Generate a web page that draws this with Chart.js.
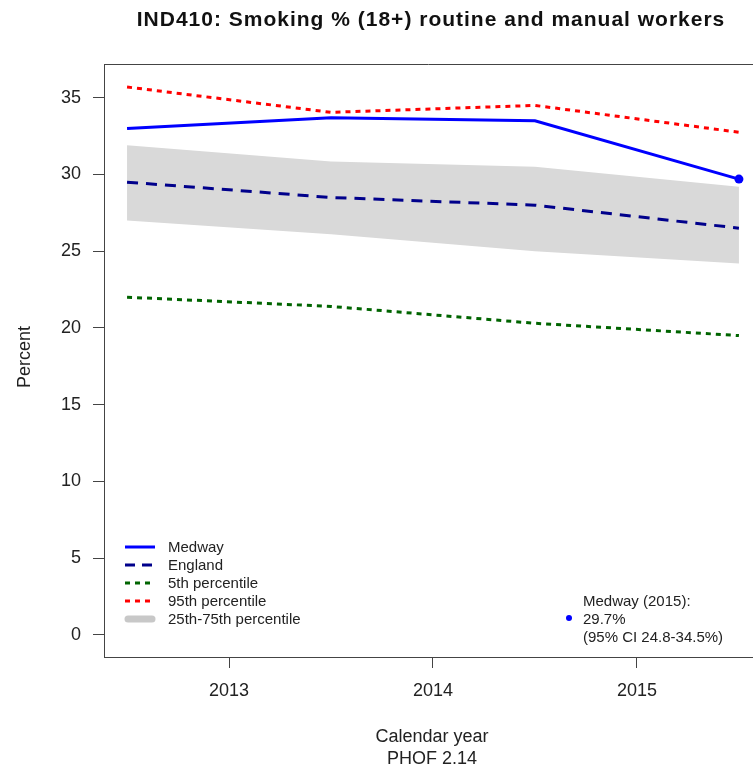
<!DOCTYPE html>
<html>
<head>
<meta charset="utf-8">
<script src="https://cdn.jsdelivr.net/npm/chart.js@4"></script>
<style>
  html, body { margin: 0; padding: 0; background: #fff; overflow: hidden; }
  canvas { display: block; }
</style>
</head>
<body>
<canvas id="c" width="753" height="770"></canvas>
<script>
// Smoking prevalence (18+), routine and manual workers
const years    = [2012.5, 2013.5, 2014.5, 2015.5];
const medway   = [33.0, 33.7, 33.5, 29.7];
const england  = [29.5, 28.5, 28.0, 26.5];
const pct5     = [22.0, 21.4, 20.3, 19.5];
const pct95    = [35.7, 34.05, 34.5, 32.75];
const pct25    = [27.0, 26.1, 25.0, 24.2];
const pct75    = [31.9, 30.85, 30.5, 29.2];
const yTicks   = [0, 5, 10, 15, 20, 25, 30, 35];
const xTicks   = [2013, 2014, 2015];
const latestYear = 2015;
const latestCI   = [24.8, 34.5];

const FONT = "'Liberation Sans', Arial, Helvetica, sans-serif";
const pts = arr => arr.map((v, i) => ({ x: years[i], y: v }));

const BLUE = '#0000ff', NAVY = '#00008b', GREEN = '#006400', RED = '#ff0000', BAND = '#d9d9d9';

const legendItems = [
  { label: 'Medway', color: BLUE, dash: [], width: 3 },
  { label: 'England', color: NAVY, dash: [10, 7], width: 3 },
  { label: '5th percentile', color: GREEN, dash: [5, 5], width: 3 },
  { label: '95th percentile', color: RED, dash: [5, 5], width: 3 },
  { label: '25th-75th percentile', color: '#c8c8c8', dash: [], width: 7, cap: 'round' }
];

const decorations = {
  id: 'decorations',
  afterDraw(chart) {
    const ctx = chart.ctx, a = chart.chartArea;
    ctx.save();
    // top edge of the plot box
    ctx.strokeStyle = '#444'; ctx.lineWidth = 1;
    ctx.beginPath(); ctx.moveTo(a.left, a.top + 0.5); ctx.lineTo(chart.width, a.top + 0.5); ctx.stroke();

    const midX = 431;
    ctx.fillStyle = '#111';
    ctx.textAlign = 'center'; ctx.textBaseline = 'middle';
    ctx.font = `bold 21px ${FONT}`;
    if ('letterSpacing' in ctx) ctx.letterSpacing = '1px';
    ctx.fillText('IND410: Smoking % (18+) routine and manual workers', midX, 20);
    if ('letterSpacing' in ctx) ctx.letterSpacing = '0px';

    ctx.fillStyle = '#222';
    ctx.font = `18px ${FONT}`;
    ctx.fillText('Calendar year', 432, 737);
    ctx.fillText('PHOF 2.14', 432, 759);
    ctx.save();
    ctx.translate(25, 357);
    ctx.rotate(-Math.PI / 2);
    ctx.fillText('Percent', 0, 0);
    ctx.restore();

    // legend
    ctx.font = `15px ${FONT}`;
    ctx.textAlign = 'left';
    legendItems.forEach((it, i) => {
      const y = 547 + i * 18;
      ctx.save();
      ctx.strokeStyle = it.color; ctx.lineWidth = it.width;
      ctx.lineCap = it.cap || 'butt';
      ctx.setLineDash(it.dash);
      ctx.beginPath();
      if (it.cap) { ctx.moveTo(128, y); ctx.lineTo(152, y); }
      else { ctx.moveTo(125, y); ctx.lineTo(155, y); }
      ctx.stroke();
      ctx.restore();
      ctx.fillStyle = '#222';
      ctx.fillText(it.label, 168, y + 1);
    });

    // latest-value note
    const last = medway[medway.length - 1];
    ctx.fillStyle = BLUE;
    ctx.beginPath(); ctx.arc(569, 618, 3, 0, Math.PI * 2); ctx.fill();
    ctx.fillStyle = '#222';
    ctx.fillText(`Medway (${latestYear}):`, 583, 602);
    ctx.fillText(`${last.toFixed(1)}%`, 583, 620);
    ctx.fillText(`(95% CI ${latestCI[0].toFixed(1)}-${latestCI[1].toFixed(1)}%)`, 583, 638);
    ctx.restore();
  }
};

const tickFont = { family: FONT, size: 18 };

new Chart(document.getElementById('c'), {
  type: 'line',
  data: {
    datasets: [
      { label: 'Medway', data: pts(medway), borderColor: BLUE, borderWidth: 3,
        pointRadius: medway.map((_, i) => i === medway.length - 1 ? 4.5 : 0),
        pointBackgroundColor: BLUE, pointBorderColor: BLUE, pointBorderWidth: 0, fill: false },
      { label: 'England', data: pts(england), borderColor: NAVY, borderWidth: 3,
        borderDash: [11, 8], pointRadius: 0, fill: false },
      { label: '95th percentile', data: pts(pct95), borderColor: RED, borderWidth: 3,
        borderDash: [5, 5], pointRadius: 0, fill: false },
      { label: '5th percentile', data: pts(pct5), borderColor: GREEN, borderWidth: 3,
        borderDash: [5, 5], pointRadius: 0, fill: false },
      { label: '25th percentile', data: pts(pct25), borderWidth: 0, borderColor: 'rgba(0,0,0,0)',
        pointRadius: 0, fill: false },
      { label: '75th percentile', data: pts(pct75), borderWidth: 0, borderColor: 'rgba(0,0,0,0)',
        backgroundColor: BAND, pointRadius: 0, fill: '-1' }
    ]
  },
  options: {
    responsive: false,
    animation: false,
    events: [],
    layout: { autoPadding: false, padding: { top: 64, left: 0, right: 0, bottom: 0 } },
    plugins: { legend: { display: false }, tooltip: { enabled: false }, title: { display: false } },
    elements: { line: { tension: 0 } },
    scales: {
      x: {
        type: 'linear', min: 2012.387, max: 2015.569,
        afterBuildTicks: s => { s.ticks = xTicks.map(v => ({ value: v })); },
        afterFit: s => { s.height = 113; s.paddingLeft = 0; s.paddingRight = 0; },
        grid: { drawOnChartArea: false, drawTicks: true, tickLength: 11, color: '#444', lineWidth: 1 },
        border: { display: true, color: '#444', width: 1 },
        ticks: { font: tickFont, color: '#222', padding: 12, maxRotation: 0, autoSkip: false,
                 callback: v => String(v) }
      },
      y: {
        type: 'linear', min: -1.45, max: 37.2,
        afterBuildTicks: s => { s.ticks = yTicks.map(v => ({ value: v })); },
        afterFit: s => { s.width = 104; s.paddingTop = 0; s.paddingBottom = 0; },
        grid: { drawOnChartArea: false, drawTicks: true, tickLength: 11, color: '#444', lineWidth: 1 },
        border: { display: true, color: '#444', width: 1 },
        ticks: { font: tickFont, color: '#222', padding: 12, autoSkip: false,
                 callback: v => String(v) }
      }
    }
  },
  plugins: [decorations]
});
</script>
</body>
</html>
